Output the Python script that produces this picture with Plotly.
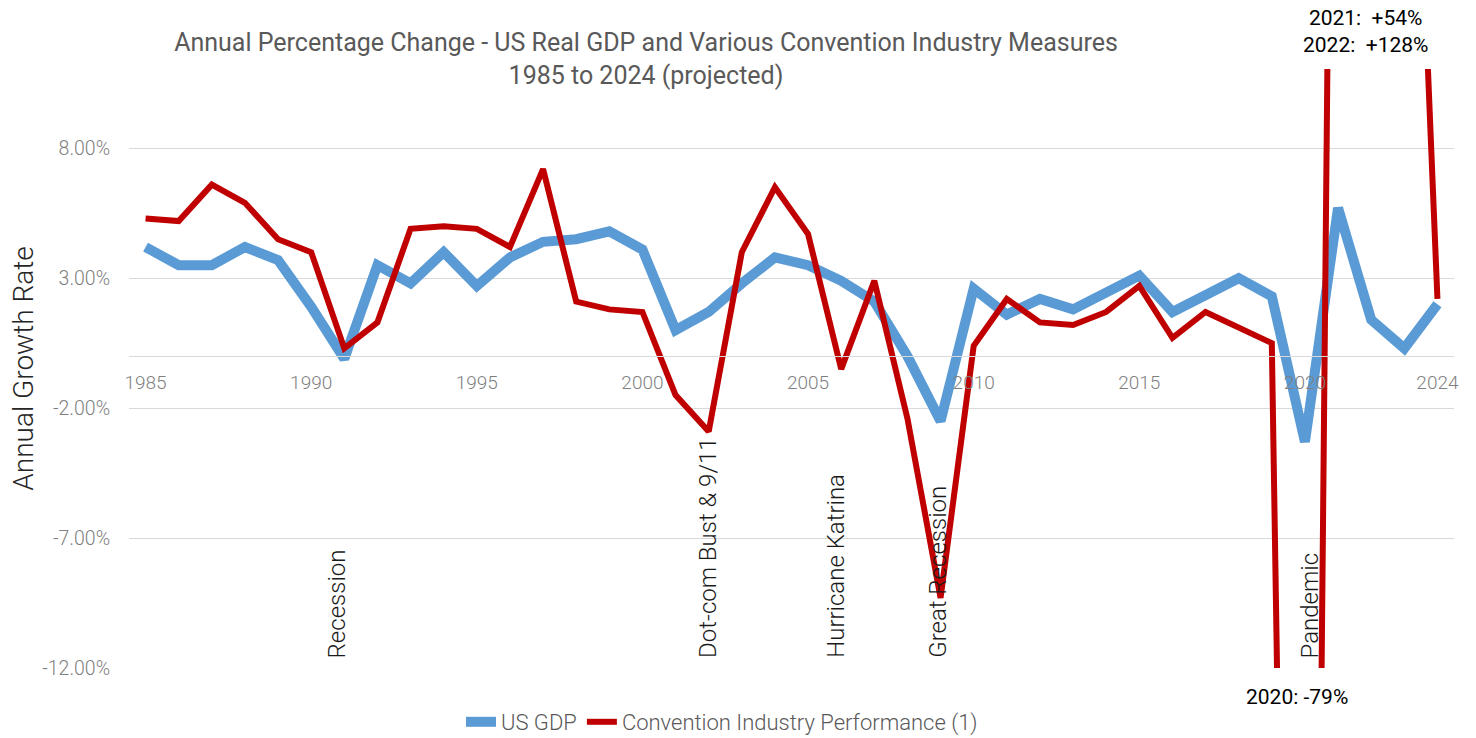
import plotly.graph_objects as go

# Annual growth rates (%), 1985-2024 (2024 projected)
years = list(range(1985, 2025))

us_gdp = [4.2, 3.5, 3.5, 4.2, 3.7, 1.9, -0.1, 3.5, 2.8, 4.0,
          2.7, 3.8, 4.4, 4.5, 4.8, 4.1, 1.0, 1.7, 2.8, 3.8,
          3.5, 2.9, 2.1, 0.0, -2.5, 2.6, 1.6, 2.2, 1.8, 2.5,
          3.1, 1.7, 2.3, 3.0, 2.3, -3.3, 5.7, 1.4, 0.3, 2.0]

convention = [5.3, 5.2, 6.6, 5.9, 4.5, 4.0, 0.3, 1.3, 4.9, 5.0,
              4.9, 4.2, 7.2, 2.1, 1.8, 1.7, -1.5, -2.9, 4.0, 6.5,
              4.7, -0.5, 2.9, -2.4, -9.3, 0.4, 2.2, 1.3, 1.2, 1.7,
              2.7, 0.7, 1.7, 1.1, 0.5, -79, 54, 128, 33, 2.2]

x_tick_years = [1985, 1990, 1995, 2000, 2005, 2010, 2015, 2020, 2024]
y_tick_vals = [8, 3, -2, -7, -12]
y_tick_text = ["8.00%", "3.00%", "-2.00%", "-7.00%", "-12.00%"]

# Event labels: (text, year position)
events = [("Recession", 1990.77),
          ("Dot-com Bust & 9/11", 2002.0),
          ("Hurricane Katrina", 2005.86),
          ("Great Recession", 2008.94),
          ("Pandemic", 2020.16)]

Y_MIN, Y_MAX = -12, 11.05

BLUE = "#5B9BD5"
RED = "#C00000"
GRID = "#D9D9D9"
FONT = "Roboto"

fig = go.Figure()
fig.add_trace(go.Scatter(x=years, y=us_gdp, mode="lines", name="US GDP",
                         line=dict(color=BLUE, width=10)))
fig.add_trace(go.Scatter(x=years, y=convention, mode="lines",
                         name="Convention Industry Performance (1)",
                         line=dict(color=RED, width=6)))

annotations = []
for label, xpos in events:
    annotations.append(dict(x=xpos, y=-11.7, xref="x", yref="y", text=label,
                            textangle=-90, showarrow=False, xanchor="center",
                            yanchor="bottom",
                            font=dict(family=FONT, size=24, color="#1a1a1a", weight=300)))

i20, i21, i22 = years.index(2020), years.index(2021), years.index(2022)
annotations.append(dict(x=2021.82, y=1.062, xref="x", yref="paper",
                        text=f"2021:  +{convention[i21]}%<br>2022:  +{convention[i22]}%",
                        showarrow=False, xanchor="center", yanchor="middle",
                        font=dict(family=FONT, size=21, color="#000000")))
annotations.append(dict(x=2019.77, y=-0.048, xref="x", yref="paper",
                        text=f"2020: {convention[i20]}%",
                        showarrow=False, xanchor="center", yanchor="middle",
                        font=dict(family=FONT, size=21, color="#000000")))

fig.update_layout(
    width=1476, height=738,
    margin=dict(l=129, r=22, t=69, b=70, autoexpand=False),
    paper_bgcolor="white", plot_bgcolor="white",
    title=dict(text="Annual Percentage Change - US Real GDP and Various Convention Industry Measures"
                    "<br>1985 to 2024 (projected)",
               x=646 / 1476, xanchor="center", xref="container",
               y=1 - 51 / 738, yanchor="top", yref="container",
               font=dict(family=FONT, size=25, color="#595959")),
    xaxis=dict(range=[1984.5, 2024.5], tickvals=x_tick_years,
               showgrid=False, zeroline=False,
               anchor="free", position=(0 - Y_MIN) / (Y_MAX - Y_MIN),
               showline=True, linecolor=GRID, linewidth=1.3,
               ticks="outside", ticklen=9, tickcolor="rgba(0,0,0,0)",
               tickfont=dict(family=FONT, size=19, color="#7F7F7F", weight=300)),
    yaxis=dict(range=[Y_MIN, Y_MAX], tickvals=y_tick_vals, ticktext=y_tick_text,
               showgrid=True, gridcolor=GRID, gridwidth=1.3, zeroline=False,
               ticks="outside", ticklen=14, tickcolor="rgba(0,0,0,0)",
               tickfont=dict(family=FONT, size=19.5, color="#7F7F7F", weight=300),
               title=dict(text="Annual Growth Rate", standoff=0,
                          font=dict(family=FONT, size=28, color="#262626", weight=300))),
    legend=dict(orientation="h", xref="container", yref="container",
                x=722 / 1476, xanchor="center",
                y=1 - 722 / 738, yanchor="middle",
                font=dict(family=FONT, size=22, color="#595959", weight=300),
                itemwidth=30),
    showlegend=True,
    annotations=annotations,
)

fig.write_html("out.html")
